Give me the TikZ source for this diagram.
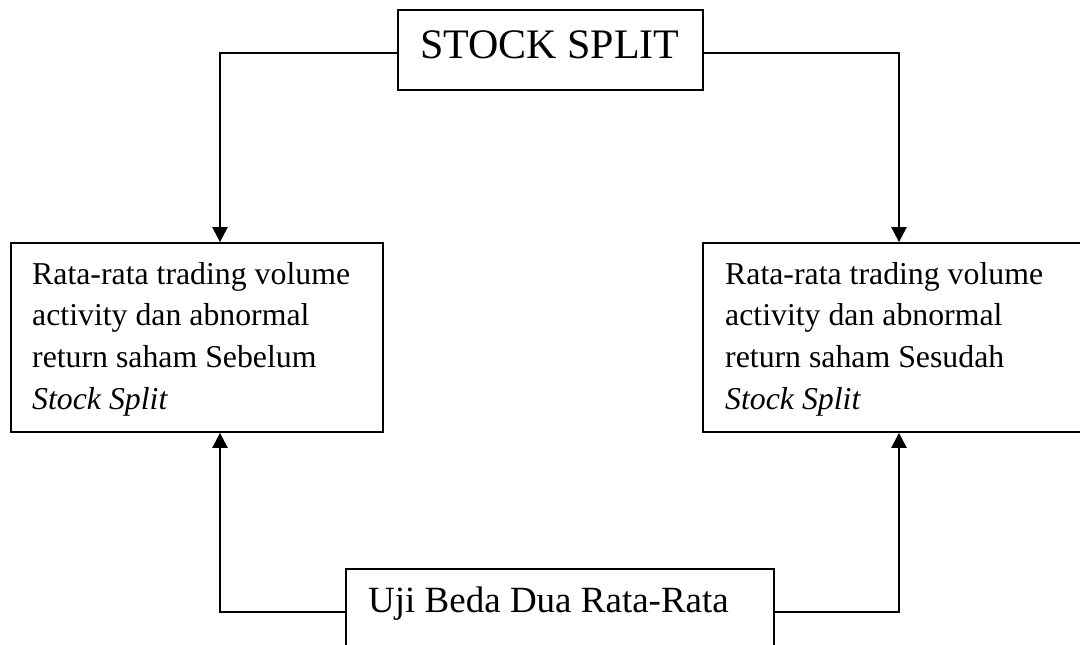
\documentclass[tikz,border=0pt]{standalone}
\usepackage{fontspec}
\setmainfont{Liberation Serif}
\usetikzlibrary{arrows.meta}
\tikzset{
  boxshape/.style={draw=black, line width=1.8pt, rectangle, inner sep=0pt},
  txt/.style={inner sep=0pt, anchor=base west},
  conn/.style={draw=black, line width=2.5pt, -{Triangle[length=15pt,width=15pt]}}
}
\begin{document}
\begin{tikzpicture}[x=1pt,y=-1pt]
\useasboundingbox (0,0) rectangle (1080,645);
% boxes
\node[boxshape, minimum width=305pt, minimum height=80pt] (top) at (550.5,50) {};
\node[boxshape, minimum width=372pt, minimum height=189pt] (left) at (197,337.5) {};
\node[boxshape, minimum width=382pt, minimum height=189pt] (right) at (894,337.5) {};
\node[boxshape, minimum width=428pt, minimum height=86pt] (bottom) at (560,612) {};
% texts
\node[txt] (toptxt) at (420,58) {\fontsize{42}{50}\selectfont STOCK SPLIT};
\node[txt] (l1) at (32,284) {\fontsize{31.8}{41.7}\selectfont Rata-rata trading volume};
\node[txt] (l2) at (32,325.7) {\fontsize{31.8}{41.7}\selectfont activity dan abnormal};
\node[txt] (l3) at (32,367.4) {\fontsize{31.8}{41.7}\selectfont return saham Sebelum};
\node[txt] (l4) at (32,409.1) {\fontsize{31.8}{41.7}\selectfont\itshape Stock Split};
\node[txt] (r1) at (725,284) {\fontsize{31.8}{41.7}\selectfont Rata-rata trading volume};
\node[txt] (r2) at (725,325.7) {\fontsize{31.8}{41.7}\selectfont activity dan abnormal};
\node[txt] (r3) at (725,367.4) {\fontsize{31.8}{41.7}\selectfont return saham Sesudah};
\node[txt] (r4) at (725,409.1) {\fontsize{31.8}{41.7}\selectfont\itshape Stock Split};
\node[txt] (bottxt) at (368,612.7) {\fontsize{37}{44}\selectfont Uji Beda Dua Rata-Rata};
% connectors
\draw[conn] ([yshift=-3pt]top.west) -| ([xshift=23pt]left.north);
\draw[conn] ([yshift=-3pt]top.east) -| ([xshift=5pt]right.north);
\draw[conn] (bottom.west) -| ([xshift=23pt]left.south);
\draw[conn] (bottom.east) -| ([xshift=5pt]right.south);
\end{tikzpicture}
\end{document}
